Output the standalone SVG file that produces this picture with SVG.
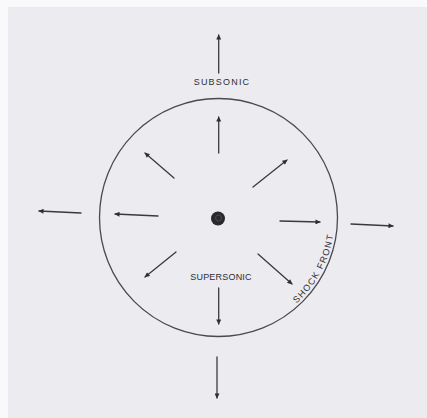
<svg xmlns="http://www.w3.org/2000/svg" width="427" height="418" viewBox="0 0 427 418">
<defs>
<style>
.arr{stroke:#3a3a3e;stroke-width:1.3;fill:none;marker-end:url(#ah);stroke-linecap:round}
.lbl{font-family:"Liberation Sans",Arial,sans-serif;font-size:9px;fill:#2e2e32}
</style>
<marker id="ah" viewBox="0 0 10 10" refX="9" refY="5" markerWidth="7" markerHeight="5" markerUnits="userSpaceOnUse" orient="auto">
<path d="M0,0 L10,5 L0,10 Z" fill="#2e2e32"/>
</marker>
<path id="arcPath" d="M283.4,313.7 A116,116 0 0 0 334.5,217.5" fill="none"/>
</defs>
<rect x="0" y="0" width="427" height="418" fill="#f9f9fb"/>
<rect x="8" y="7" width="419" height="411" fill="#ebebf0"/>
<g id="shock-front">
<circle cx="218.5" cy="217.5" r="119" fill="none" stroke="#4a4a4e" stroke-width="1.3"/>
<text class="lbl" letter-spacing="1.3"><textPath href="#arcPath" startOffset="50%" text-anchor="middle">SHOCK FRONT</textPath></text>
</g>
<g id="source">
<circle cx="218" cy="218.5" r="7" fill="#2a2a2e"/>
<circle cx="218.5" cy="218" r="3" fill="none" stroke="#555" stroke-width="0.8"/>
</g>
<g id="label-subsonic">
<text class="lbl" x="222" y="84.5" text-anchor="middle" letter-spacing="1.2">SUBSONIC</text>
</g>
<g id="label-supersonic">
<text class="lbl" x="221" y="280" text-anchor="middle" letter-spacing="0.2">SUPERSONIC</text>
</g>
<g id="connectors">
<line class="arr" x1="218.7" y1="73" x2="218.7" y2="35"/>
<line class="arr" x1="218.7" y1="153" x2="218.7" y2="117"/>
<line class="arr" x1="174" y1="178" x2="145" y2="153"/>
<line class="arr" x1="253" y1="187" x2="287" y2="160"/>
<line class="arr" x1="158" y1="216" x2="115" y2="214"/>
<line class="arr" x1="81" y1="213" x2="39" y2="211"/>
<line class="arr" x1="280" y1="221" x2="320" y2="222"/>
<line class="arr" x1="351" y1="224" x2="393" y2="226"/>
<line class="arr" x1="176" y1="252" x2="145" y2="277"/>
<line class="arr" x1="258" y1="254" x2="292" y2="284"/>
<line class="arr" x1="218.7" y1="288" x2="218.7" y2="324"/>
<line class="arr" x1="217" y1="357" x2="217" y2="398"/>
</g>
</svg>
